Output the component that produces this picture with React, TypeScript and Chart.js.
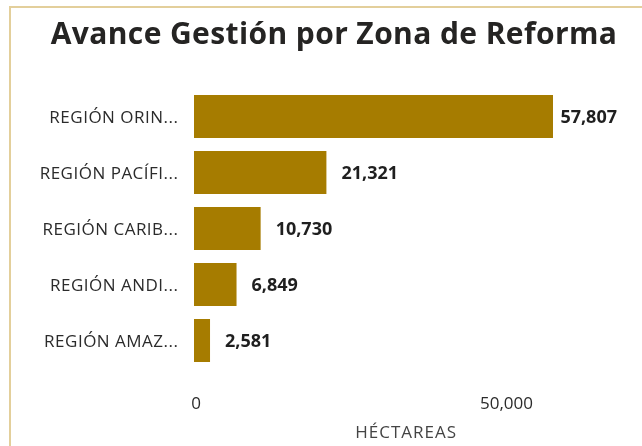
import React, { useEffect, useRef } from "react";
import { Chart, registerables } from "chart.js";

Chart.register(...registerables);

const chartTitle = "Avance Gestión por Zona de Reforma";
const categories = [
  "REGIÓN ORIN...",
  "REGIÓN PACÍFI...",
  "REGIÓN CARIB...",
  "REGIÓN ANDI...",
  "REGIÓN AMAZ...",
];
const hectareas = [57807, 21321, 10730, 6849, 2581];
const xTickValues = [0, 50000];
const xAxisTitle = "HÉCTAREAS";

const FONT = "'Open Sans', 'DejaVu Sans', sans-serif";
const fmt = (v: number) => v.toLocaleString("en-US");

const textLayer = {
  id: "textLayer",
  afterDatasetsDraw(chart: any) {
    const { ctx, scales } = chart;
    const xs = scales.x;
    const ys = scales.y;
    const c: any = ctx;
    ctx.save();

    // Title
    c.letterSpacing = "0.4px";
    ctx.font = `bold 30px ${FONT}`;
    ctx.fillStyle = "#252423";
    ctx.textAlign = "center";
    ctx.textBaseline = "alphabetic";
    ctx.fillText(chartTitle, 334, 44);

    // Category labels
    c.letterSpacing = "0.5px";
    ctx.font = `17px ${FONT}`;
    ctx.fillStyle = "#2b2b2b";
    ctx.textAlign = "right";
    categories.forEach((lab, i) => {
      ctx.fillText(lab, xs.left - 16 + 0.5, ys.getPixelForValue(i) + 6);
    });

    // X tick labels
    c.letterSpacing = "0px";
    ctx.font = `17px ${FONT}`;
    ctx.textAlign = "center";
    xTickValues.forEach((v) => {
      ctx.fillText(fmt(v), xs.getPixelForValue(v) + 2, 409);
    });

    // X axis title
    c.letterSpacing = "1px";
    ctx.font = `17px ${FONT}`;
    ctx.fillStyle = "#444444";
    ctx.fillText(xAxisTitle, (xs.left + xs.right) / 2 + 1, 438);

    // Value labels
    c.letterSpacing = "0px";
    ctx.font = `bold 18px ${FONT}`;
    ctx.fillStyle = "#1f1f1f";
    ctx.textAlign = "left";
    const meta = chart.getDatasetMeta(0);
    const limit = 617;
    meta.data.forEach((bar: any, i: number) => {
      const t = fmt(hectareas[i]);
      const w = ctx.measureText(t).width;
      const x = Math.min(bar.x + 15, limit - w);
      ctx.fillText(t, x, bar.y + 6.5);
    });

    ctx.restore();
  },
};

export default function App() {
  const ref = useRef<HTMLCanvasElement>(null);

  useEffect(() => {
    document.body.style.margin = "0";
    const chart = new Chart(ref.current!, {
      type: "bar",
      data: {
        labels: categories,
        datasets: [
          {
            data: hectareas,
            backgroundColor: "#A67C00",
            barPercentage: 0.77,
            categoryPercentage: 1,
          },
        ],
      },
      options: {
        indexAxis: "y",
        animation: false,
        responsive: false,
        layout: { padding: { left: 194, right: 25.7, top: 88.5, bottom: 77.5 } },
        plugins: {
          legend: { display: false },
          tooltip: { enabled: false },
          title: { display: false },
        },
        scales: {
          x: { display: false, min: 0, max: 68000 },
          y: { display: false },
        },
      },
      plugins: [textLayer],
    });
    return () => chart.destroy();
  }, []);

  return (
    <div style={{ position: "fixed", left: 0, top: 0, width: 642, height: 446, background: "#fff", overflow: "hidden" }}>
      <div
        style={{
          position: "absolute",
          left: 9,
          top: 6,
          width: 700,
          height: 500,
          borderLeft: "2px solid #E3CF9B",
          borderTop: "2px solid #E3CF9B",
        }}
      />
      <canvas ref={ref} width={642} height={446} style={{ position: "absolute", left: 0, top: 0 }} />
    </div>
  );
}
